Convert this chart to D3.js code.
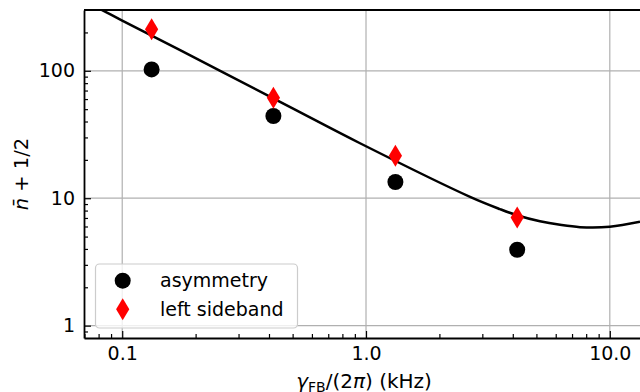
<!DOCTYPE html>
<html>
<head>
<meta charset="utf-8">
<script src="https://cdn.jsdelivr.net/npm/d3@7"></script>
<style>
  body { margin: 0; background: #fff; }
  svg { display: block; font-family: "DejaVu Sans", sans-serif; }
</style>
</head>
<body>
<svg id="chart"></svg>
<script>
var width = 640,
    height = 392;

// measured points
var gammaFB = [0.132, 0.417, 1.32, 4.17];
var asymmetry = [102.6, 44.2, 13.4, 3.94];
var leftSideband = [212, 61.4, 21.5, 7.05];

// theory curve
var theoryGamma = [0.07, 0.1, 0.2616, 0.5, 0.945, 2.671, 3.545, 4.164, 5.17, 6.25, 7.55, 10.0, 13.3];
var theoryN = [353, 248, 96.5, 50.7, 27.0, 10.25, 8.21, 7.35, 6.59, 6.18, 5.93, 5.97, 6.53];

var xMajor = [0.1, 1, 10];
var xMajorLabels = ["0.1", "1.0", "10.0"];
var yMajor = [1, 10, 100];
var yMajorLabels = ["1", "10", "100"];

var legendLabels = ["asymmetry", "left sideband"];

// plot area (note: "top" is taken by window.top)
var pLeft = 84, pRight = 640, pTop = 10, pBottom = 338;

var x = d3.scaleLog()
    .domain([0.0697, 13.3])
    .range([pLeft, pRight]);

var y = d3.scaleLog()
    .domain([0.8, 300])
    .range([pBottom, pTop]);

var svg = d3.select("#chart")
    .attr("width", width)
    .attr("height", height);

svg.append("defs").append("clipPath")
    .attr("id", "clip")
  .append("rect")
    .attr("x", pLeft).attr("y", pTop)
    .attr("width", pRight - pLeft).attr("height", pBottom - pTop);

// minor tick values
var xMinor = [];
[0.01, 0.1, 1, 10].forEach(function(b) {
    for (var k = 2; k <= 9; k++) {
        var v = b * k;
        if (v > x.domain()[0] && v < x.domain()[1]) xMinor.push(v);
    }
});
var yMinor = [];
[0.1, 1, 10, 100].forEach(function(b) {
    for (var k = 2; k <= 9; k++) {
        var v = b * k;
        if (v > y.domain()[0] && v < y.domain()[1]) yMinor.push(v);
    }
});

// grid
var grid = svg.append("g").attr("clip-path", "url(#clip)");
grid.selectAll(".gx").data(xMajor).enter().append("line")
    .attr("x1", function(d) { return x(d); })
    .attr("x2", function(d) { return x(d); })
    .attr("y1", pTop).attr("y2", pBottom)
    .attr("stroke", "#b0b0b0").attr("stroke-width", 1.2);
grid.selectAll(".gy").data(yMajor).enter().append("line")
    .attr("y1", function(d) { return y(d); })
    .attr("y2", function(d) { return y(d); })
    .attr("x1", pLeft).attr("x2", pRight)
    .attr("stroke", "#b0b0b0").attr("stroke-width", 1.2);

// theory line
var plot = svg.append("g").attr("clip-path", "url(#clip)");
var line = d3.line()
    .x(function(d, i) { return x(theoryGamma[i]); })
    .y(function(d, i) { return y(theoryN[i]); })
    .curve(d3.curveCatmullRom.alpha(0.5));
plot.append("path")
    .datum(theoryN)
    .attr("d", line)
    .attr("fill", "none")
    .attr("stroke", "#000")
    .attr("stroke-width", 2.5);

function diamond(g) {
    g.attr("d", "M0,-11L6.6,0L0,11L-6.6,0Z").attr("fill", "red");
}

plot.selectAll(".asym").data(asymmetry).enter().append("circle")
    .attr("cx", function(d, i) { return x(gammaFB[i]); })
    .attr("cy", function(d) { return y(d); })
    .attr("r", 8)
    .attr("fill", "#000");

plot.selectAll(".lsb").data(leftSideband).enter().append("path")
    .call(diamond)
    .attr("transform", function(d, i) { return "translate(" + x(gammaFB[i]) + "," + y(d) + ")"; });

// axes (ticks pointing inwards)
var xAxis = svg.append("g")
    .attr("transform", "translate(0," + pBottom + ")")
    .call(d3.axisBottom(x).tickValues(xMajor)
        .tickFormat(function(d, i) { return xMajorLabels[i]; })
        .tickSizeInner(-7).tickSizeOuter(0).tickPadding(9));
svg.append("g")
    .attr("transform", "translate(0," + pBottom + ")")
    .call(d3.axisBottom(x).tickValues(xMinor).tickFormat("")
        .tickSizeInner(-4).tickSizeOuter(0))
    .select(".domain").remove();

var yAxis = svg.append("g")
    .attr("transform", "translate(" + pLeft + ",0)")
    .call(d3.axisLeft(y).tickValues(yMajor)
        .tickFormat(function(d, i) { return yMajorLabels[i]; })
        .tickSizeInner(-7).tickSizeOuter(0).tickPadding(9));
svg.append("g")
    .attr("transform", "translate(" + pLeft + ",0)")
    .call(d3.axisLeft(y).tickValues(yMinor).tickFormat("")
        .tickSizeInner(-4).tickSizeOuter(0))
    .select(".domain").remove();

svg.selectAll(".tick line").attr("stroke", "#000").attr("stroke-width", 1.2);
svg.selectAll(".tick text")
    .attr("fill", "#000")
    .style("font-size", "19px")
    .style("font-family", "DejaVu Sans");
xAxis.select(".domain").attr("stroke-width", 1.8);
yAxis.select(".domain").attr("stroke-width", 1.8);

// top spine
svg.append("line")
    .attr("x1", pLeft).attr("x2", pRight)
    .attr("y1", pTop).attr("y2", pTop)
    .attr("stroke", "#000").attr("stroke-width", 1.8);

// axis labels
var xl = svg.append("text")
    .attr("x", 364).attr("y", 388)
    .attr("text-anchor", "middle")
    .style("font-size", "20px");
xl.append("tspan").attr("font-style", "italic").text("γ");
xl.append("tspan").attr("dy", 4).style("font-size", "14px").text("FB");
xl.append("tspan").attr("dy", -4).text("/(2");
xl.append("tspan").attr("font-style", "italic").text("π");
xl.append("tspan").text(") (kHz)");

var yl = svg.append("text")
    .attr("transform", "translate(27.5," + ((pTop + pBottom) / 2) + ") rotate(-90)")
    .attr("text-anchor", "middle")
    .style("font-size", "19.5px");
yl.append("tspan").attr("font-style", "italic").text("n\u0304");
yl.append("tspan").text(" + 1/2");

// legend
var lg = svg.append("g");
lg.append("rect")
    .attr("x", 95.5).attr("y", 264)
    .attr("width", 202).attr("height", 64)
    .attr("rx", 4)
    .attr("fill", "#fff").attr("fill-opacity", 0.8)
    .attr("stroke", "#cccccc").attr("stroke-width", 1.2);
lg.append("circle")
    .attr("cx", 122.7).attr("cy", 280.7).attr("r", 8).attr("fill", "#000");
lg.append("path").call(diamond)
    .attr("transform", "translate(122.7,309.3)");
lg.selectAll(".lt").data(legendLabels).enter().append("text")
    .attr("x", 160)
    .attr("y", function(d, i) { return 280.7 + i * 28.6; })
    .attr("dy", "0.35em")
    .style("font-size", "19px")
    .text(function(d) { return d; });
</script>
</body>
</html>
